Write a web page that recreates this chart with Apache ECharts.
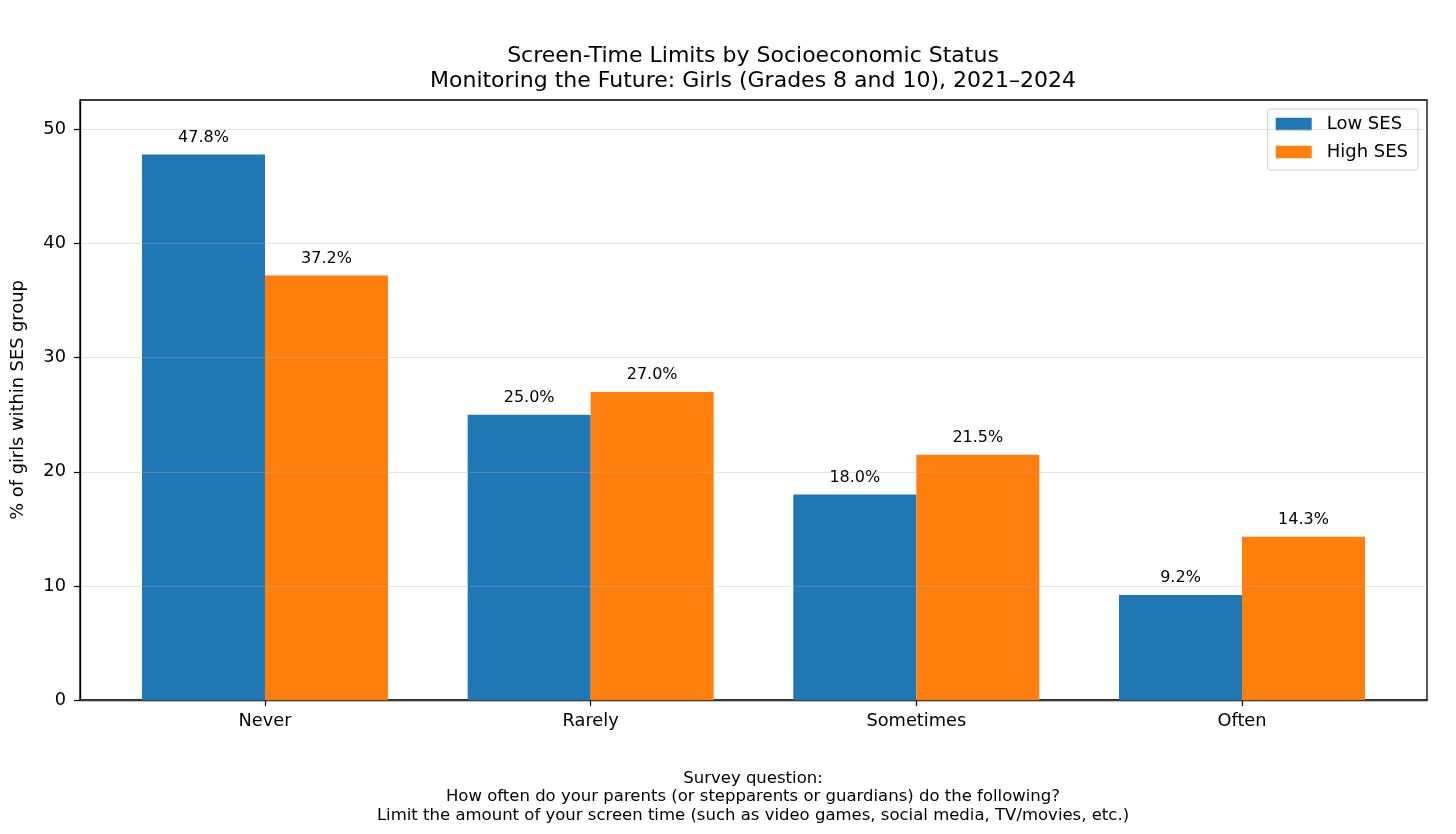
<!DOCTYPE html>
<html>
<head>
<meta charset="utf-8">
<script src="https://cdn.jsdelivr.net/npm/echarts@6/dist/echarts.min.js"></script>
<style>
html,body{margin:0;padding:0;background:#fff;}
#chart{width:1456px;height:834px;}
</style>
</head>
<body>
<div id="chart"></div>
<script>
const categories = ['Never', 'Rarely', 'Sometimes', 'Often'];
const lowSES = [47.8, 25.0, 18.0, 9.2];
const highSES = [37.2, 27.0, 21.5, 14.3];
const seriesNames = ['Low SES', 'High SES'];
const yTicks = [0, 10, 20, 30, 40, 50];
const titleLines = ['Screen-Time Limits by Socioeconomic Status', 'Monitoring the Future: Girls (Grades 8 and 10), 2021\u20132024'];
const noteLines = ['Survey question:', 'How often do your parents (or stepparents or guardians) do the following?', 'Limit the amount of your screen time (such as video games, social media, TV/movies, etc.)'];
const yName = '% of girls within SES group';

const FONT = 'DejaVu Sans';
const catIdx = categories.map((c, i) => i);
const chart = echarts.init(document.getElementById('chart'), null, {renderer: 'canvas'});

const labelCfg = {
  show: true, position: 'top', distance: 9,
  fontFamily: FONT, fontSize: 16, color: '#000',
  formatter: p => p.value[1].toFixed(1) + '%'
};

chart.setOption({
  animation: false,
  backgroundColor: '#fff',
  textStyle: {fontFamily: FONT},
  title: [
    {
      text: titleLines.join('\n'), left: 753, top: 44, textAlign: 'center', padding: 0,
      textStyle: {fontFamily: FONT, fontSize: 22, fontWeight: 'normal', color: '#000', lineHeight: 25}
    },
    {
      text: noteLines.join('\n'), left: 753, top: 769, textAlign: 'center', padding: 0,
      textStyle: {fontFamily: FONT, fontSize: 16.5, fontWeight: 'normal', color: '#000', lineHeight: 18.5}
    }
  ],
  legend: {
    data: seriesNames, orient: 'vertical', right: 38, top: 109,
    icon: 'rect', itemWidth: 36, itemHeight: 12.6, itemGap: 10,
    padding: [6, 10, 9, 8],
    backgroundColor: 'rgba(255,255,255,0.8)', borderColor: '#cccccc', borderWidth: 1, borderRadius: 3,
    textStyle: {fontFamily: FONT, fontSize: 18, color: '#000', padding: [0, 0, 0, 10]}
  },
  grid: {left: 80, right: 29, top: 100, bottom: 134, show: true, borderColor: '#000', borderWidth: 1.3, backgroundColor: 'transparent'},
  xAxis: {
    type: 'value', min: -0.568, max: 3.568,
    axisLine: {show: true, onZero: false, lineStyle: {color: '#000', width: 1.3}},
    axisTick: {show: true, customValues: catIdx, length: 6, lineStyle: {color: '#000', width: 1.2}},
    axisLabel: {show: true, customValues: catIdx, margin: 12, fontFamily: FONT, fontSize: 17.8, color: '#000',
      formatter: v => categories[Math.round(v)] || ''},
    splitLine: {show: false}
  },
  yAxis: {
    type: 'value', min: 0, max: 52.58, z: 10,
    name: yName, nameLocation: 'middle', nameGap: 53, nameRotate: 90,
    nameTextStyle: {fontFamily: FONT, fontSize: 17.8, color: '#000'},
    axisLine: {show: true, onZero: false, lineStyle: {color: '#000', width: 1.3}},
    axisTick: {show: true, customValues: yTicks, length: 6, lineStyle: {color: '#000', width: 1.2}},
    axisLabel: {show: true, customValues: yTicks, margin: 14, fontFamily: FONT, fontSize: 17.8, color: '#000'},
    splitLine: {show: true, customValues: yTicks, lineStyle: {color: 'rgba(176,176,176,0.35)', width: 1.2}}
  },
  series: [
    {
      name: seriesNames[0], type: 'bar', barWidth: 123, barGap: '0%',
      itemStyle: {color: '#1f77b4'},
      label: labelCfg,
      data: catIdx.map(i => [i, lowSES[i]])
    },
    {
      name: seriesNames[1], type: 'bar', barWidth: 123, barGap: '0%',
      itemStyle: {color: '#ff7f0e'},
      label: labelCfg,
      data: catIdx.map(i => [i, highSES[i]])
    }
  ]
});
</script>
</body>
</html>
